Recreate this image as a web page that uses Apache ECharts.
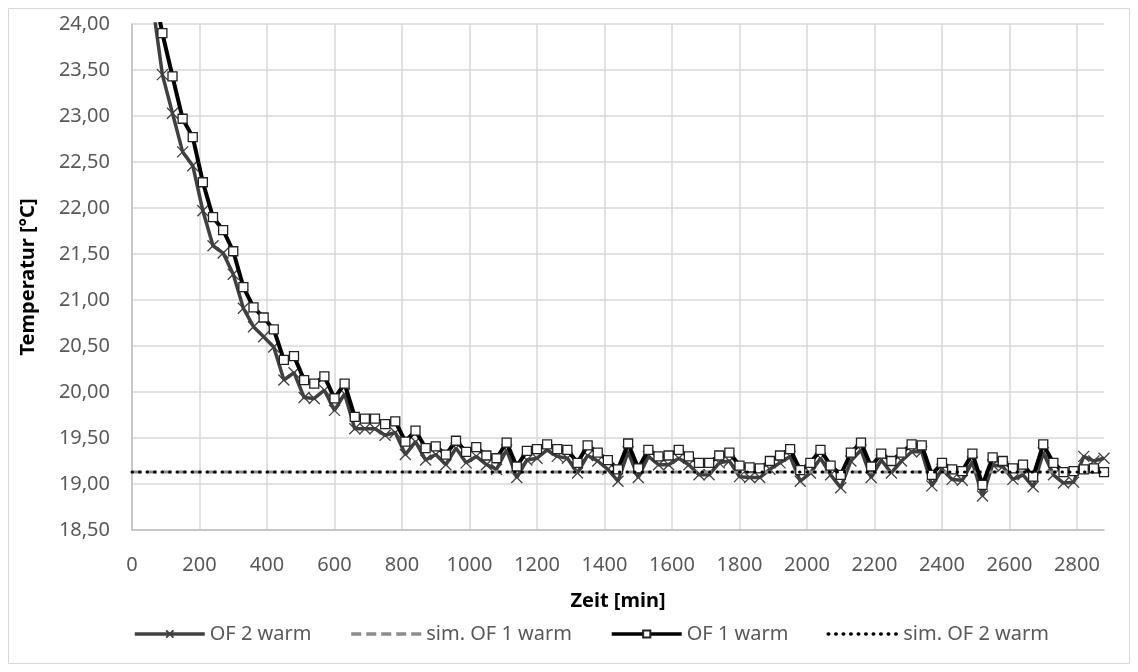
<!DOCTYPE html>
<html>
<head>
<meta charset="utf-8">
<script src="https://cdn.jsdelivr.net/npm/echarts@6/dist/echarts.min.js"></script>
<style>
html,body{margin:0;padding:0;background:#fff;}
#chart{width:1138px;height:672px;}
</style>
</head>
<body>
<div id="chart"></div>
<script>
// Time in minutes
var timeMin = [60,90,120,150,180,210,240,270,300,330,360,390,420,450,480,510,540,570,600,630,660,690,720,750,780,810,840,870,900,930,960,990,1020,1050,1080,1110,1140,1170,1200,1230,1260,1290,1320,1350,1380,1410,1440,1470,1500,1530,1560,1590,1620,1650,1680,1710,1740,1770,1800,1830,1860,1890,1920,1950,1980,2010,2040,2070,2100,2130,2160,2190,2220,2250,2280,2310,2340,2370,2400,2430,2460,2490,2520,2550,2580,2610,2640,2670,2700,2730,2760,2790,2820,2850,2880];

var of2Warm = [24.25,23.45,23.03,22.61,22.46,21.97,21.59,21.51,21.28,20.91,20.71,20.60,20.49,20.13,20.21,19.94,19.93,20.02,19.80,19.98,19.60,19.60,19.60,19.53,19.56,19.32,19.46,19.26,19.32,19.21,19.39,19.23,19.30,19.21,19.16,19.37,19.07,19.26,19.28,19.37,19.30,19.28,19.12,19.31,19.25,19.16,19.03,19.35,19.07,19.30,19.21,19.21,19.28,19.21,19.10,19.10,19.23,19.25,19.08,19.07,19.07,19.16,19.23,19.30,19.03,19.12,19.28,19.10,18.96,19.25,19.37,19.07,19.26,19.12,19.25,19.35,19.35,18.98,19.16,19.05,19.04,19.24,18.87,19.21,19.19,19.05,19.10,18.97,19.34,19.10,19.01,19.02,19.30,19.25,19.28];

var of1Warm = [24.45,23.90,23.43,22.97,22.77,22.28,21.90,21.76,21.53,21.14,20.92,20.81,20.68,20.35,20.39,20.13,20.09,20.17,19.93,20.09,19.73,19.71,19.71,19.65,19.68,19.46,19.58,19.39,19.41,19.32,19.47,19.35,19.40,19.31,19.28,19.45,19.19,19.36,19.38,19.43,19.38,19.37,19.23,19.42,19.34,19.26,19.16,19.44,19.17,19.37,19.30,19.31,19.37,19.30,19.23,19.23,19.31,19.34,19.20,19.18,19.17,19.25,19.31,19.38,19.15,19.23,19.37,19.20,19.10,19.34,19.45,19.19,19.33,19.25,19.34,19.43,19.42,19.10,19.23,19.16,19.14,19.33,18.99,19.29,19.25,19.17,19.21,19.08,19.43,19.23,19.13,19.14,19.16,19.17,19.13];

var simTime = [0, 2880];
var simOF1Warm = [19.13, 19.13];
var simOF2Warm = [19.13, 19.13];

var seriesNames = ['OF 2 warm', 'sim. OF 1 warm', 'OF 1 warm', 'sim. OF 2 warm'];
var xAxisTitle = 'Zeit [min]';
var yAxisTitle = 'Temperatur [°C]';

function pairs(xs, ys) {
  var out = [];
  for (var i = 0; i < xs.length; i++) out.push([xs[i], ys[i]]);
  return out;
}

var FONT = '"Noto Sans", sans-serif';
var chart = echarts.init(document.getElementById('chart'), null, {renderer: 'canvas'});

chart.setOption({
  animation: false,
  backgroundColor: '#ffffff',
  graphic: [{
    type: 'rect',
    shape: {x: 8.5, y: 8.5, width: 1121, height: 655},
    style: {fill: 'none', stroke: '#d9d9d9', lineWidth: 1},
    silent: true,
    z: -10
  }],
  grid: {left: 132, top: 24, right: 34, bottom: 142},
  legend: {
    top: 619,
    left: 128,
    itemWidth: 70,
    itemHeight: 9,
    itemGap: 38,
    lineStyle: {width: 3.5},
    textStyle: {fontFamily: FONT, fontSize: 20, color: '#595959'},
    data: seriesNames
  },
  xAxis: {
    type: 'value',
    min: 0,
    max: 2880,
    interval: 200,
    name: xAxisTitle,
    nameLocation: 'middle',
    nameGap: 61,
    nameTextStyle: {fontFamily: FONT, fontSize: 20, fontWeight: 'bold', color: '#000'},
    axisLine: {show: true, lineStyle: {color: '#bfbfbf', width: 1.5}},
    axisTick: {show: false},
    axisLabel: {
      fontFamily: FONT, fontSize: 20, color: '#595959', margin: 25,
      showMaxLabel: false,
      formatter: function (v) { return (v % 200 === 0) ? String(v) : ''; }
    },
    splitLine: {show: true, showMaxLine: false, lineStyle: {color: '#d9d9d9', width: 1.5}}
  },
  yAxis: {
    type: 'value',
    min: 18.5,
    max: 24,
    interval: 0.5,
    name: yAxisTitle,
    nameLocation: 'middle',
    nameGap: 94,
    nameTextStyle: {fontFamily: FONT, fontSize: 20, fontWeight: 'bold', color: '#000'},
    axisLine: {show: true, lineStyle: {color: '#bfbfbf', width: 1.5}},
    axisTick: {show: false},
    axisLabel: {
      fontFamily: FONT, fontSize: 20, color: '#595959', margin: 22,
      formatter: function (v) { return v.toFixed(2).replace('.', ','); }
    },
    splitLine: {show: true, lineStyle: {color: '#d9d9d9', width: 1.5}}
  },
  series: [
    {
      name: seriesNames[0],
      type: 'line',
      data: pairs(timeMin, of2Warm),
      symbol: 'path://M0,0L10,10M10,0L0,10',
      symbolSize: 11,
      showAllSymbol: true,
      clip: true,
      lineStyle: {color: '#404040', width: 3.5},
      itemStyle: {color: '#404040', borderColor: '#404040', borderWidth: 1.3},
      z: 2
    },
    {
      name: seriesNames[1],
      type: 'line',
      data: pairs(simTime, simOF1Warm),
      symbol: 'none',
      lineStyle: {color: '#8c8c8c', width: 3, type: [10, 5]},
      itemStyle: {color: 'rgba(0,0,0,0)', borderColor: 'rgba(0,0,0,0)', borderWidth: 0},
      z: 3
    },
    {
      name: seriesNames[2],
      type: 'line',
      data: pairs(timeMin, of1Warm),
      symbol: 'rect',
      symbolSize: 9,
      showAllSymbol: true,
      clip: true,
      lineStyle: {color: '#000000', width: 4},
      itemStyle: {color: '#ffffff', borderColor: '#222222', borderWidth: 1.3},
      z: 4
    },
    {
      name: seriesNames[3],
      type: 'line',
      data: pairs(simTime, simOF2Warm),
      symbol: 'none',
      lineStyle: {color: '#000000', width: 3, type: [0.5, 7], cap: 'round'},
      itemStyle: {color: 'rgba(0,0,0,0)', borderColor: 'rgba(0,0,0,0)', borderWidth: 0},
      z: 5
    }
  ]
});
</script>
</body>
</html>
